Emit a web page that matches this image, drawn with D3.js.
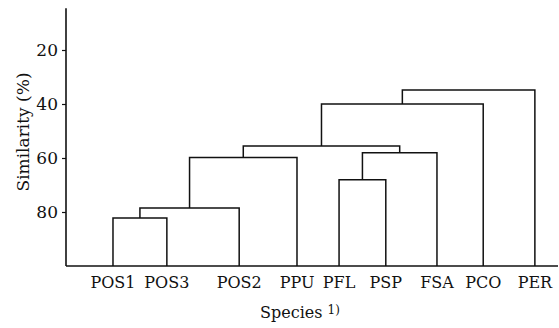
<!DOCTYPE html>
<html>
<head>
<meta charset="utf-8">
<script src="https://cdn.jsdelivr.net/npm/d3@7/dist/d3.min.js"></script>
<style>
  html, body { margin: 0; padding: 0; background: #fff; }
  svg { display: block; }
  text { font-family: "DejaVu Serif", "Liberation Serif", serif; fill: #111; }
</style>
</head>
<body>
<svg id="chart" width="559" height="328"></svg>
<script>
// ---- data ----
const species = ["POS1", "POS3", "POS2", "PPU", "PFL", "PSP", "FSA", "PCO", "PER"];
// leaf positions along the horizontal axis (arbitrary units 0-100)
const leafPos = [9.55, 20.5, 35.2, 46.95, 55.5, 65.0, 75.4, 84.8, 95.3];
// agglomeration steps
const mergeNames = ["A", "B", "C", "D", "E", "F", "G", "H"];
const mergeLeft = ["POS1", "A", "B", "PFL", "D", "C", "F", "G"];
const mergeRight = ["POS3", "POS2", "PPU", "PSP", "FSA", "E", "PCO", "PER"];
const mergeSimilarity = [82.2, 78.5, 59.8, 68.1, 58.1, 55.6, 40.0, 34.8];
const yTicks = [20, 40, 60, 80];

// ---- layout ----
const svg = d3.select("#chart");
const x = d3.scaleLinear().domain([0, 100]).range([66, 558]);
const y = d3.scaleLinear().domain([0, 100]).range([-4, 266]);
const ink = "#111";

// node positions
const nodes = {};
species.forEach((s, i) => { nodes[s] = { x: x(leafPos[i]), y: y(100) }; });
mergeNames.forEach((m, i) => {
  const L = nodes[mergeLeft[i]], R = nodes[mergeRight[i]];
  const my = y(mergeSimilarity[i]);
  nodes[m] = { x: (L.x + R.x) / 2, y: my, L, R };
});

// dendrogram links
const g = svg.append("g");
mergeNames.forEach(m => {
  const n = nodes[m];
  const p = d3.path();
  p.moveTo(n.L.x, n.L.y);
  p.lineTo(n.L.x, n.y);
  p.lineTo(n.R.x, n.y);
  p.lineTo(n.R.x, n.R.y);
  g.append("path").attr("d", p.toString())
    .attr("fill", "none").attr("stroke", ink).attr("stroke-width", 1.5)
    .attr("stroke-linejoin", "miter");
});

// baseline
svg.append("line")
  .attr("x1", x(0)).attr("x2", x(100))
  .attr("y1", y(100)).attr("y2", y(100))
  .attr("stroke", ink).attr("stroke-width", 1.6);

// y axis
const yAxis = d3.axisLeft(y).tickValues(yTicks).tickSize(4).tickPadding(4);
const ya = svg.append("g").attr("transform", `translate(${x(0)},0)`).call(yAxis);
ya.select(".domain").remove();
ya.selectAll(".tick line").attr("stroke", ink).attr("stroke-width", 1.2);
ya.selectAll(".tick text")
  .style("font-family", "'DejaVu Serif', serif")
  .style("font-size", "17px")
  .attr("fill", ink);
svg.append("line")
  .attr("x1", x(0)).attr("x2", x(0))
  .attr("y1", y(4.5)).attr("y2", y(100))
  .attr("stroke", ink).attr("stroke-width", 1.6);

// leaf labels
svg.append("g").selectAll("text").data(species).join("text")
  .attr("x", d => nodes[d].x)
  .attr("y", 288)
  .attr("text-anchor", "middle")
  .style("font-size", "16px")
  .text(d => d);

// axis titles
svg.append("text")
  .attr("transform", `translate(29,132) rotate(-90)`)
  .attr("text-anchor", "middle")
  .style("font-size", "17px")
  .text("Similarity (%)");

const xt = svg.append("text")
  .attr("x", 300).attr("y", 318)
  .attr("text-anchor", "middle")
  .style("font-size", "16px");
xt.append("tspan").text("Species ");
xt.append("tspan").attr("dy", -4).style("font-size", "12px").text("1)");
</script>
</body>
</html>
